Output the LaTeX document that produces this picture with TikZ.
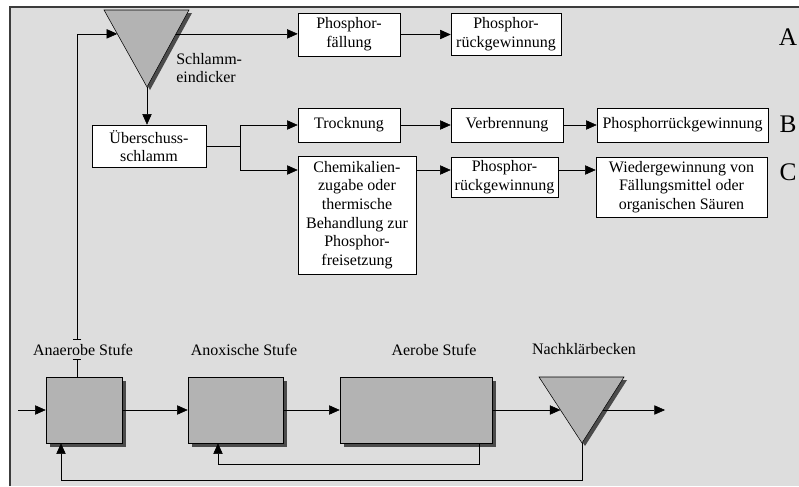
\documentclass[tikz,border=0pt]{standalone}
\usepackage{fontspec}
\setmainfont{Liberation Serif}
\usetikzlibrary{arrows.meta,calc,backgrounds}

\definecolor{bggray}{RGB}{221,221,221}
\definecolor{stagegray}{RGB}{179,179,179}
\definecolor{shadowgray}{RGB}{75,75,75}
\definecolor{framegray}{RGB}{60,60,60}

\pgfdeclarelayer{bottom}
\pgfdeclarelayer{background}
\pgfsetlayers{bottom,background,main}

\begin{document}
\begin{tikzpicture}[x=0.75pt,y=0.75pt,yscale=-1,xscale=1,line width=0.7pt,
  every node/.style={font=\fontsize{12}{14}\selectfont},
  box/.style={draw,fill=white,align=center,inner sep=0pt},
  stage/.style={draw,fill=stagegray,inner sep=0pt,minimum height=49.5pt},
  shade/.style={fill=shadowgray},
  lbl/.style={inner sep=0pt,align=left},
  letter/.style={inner sep=0pt,font=\fontsize{19}{22}\selectfont},
  arr/.style={-{Triangle[length=8pt,width=7pt]}},
  brk/.style={-{Bar[width=6.5pt]}}]
\useasboundingbox (0,0) rectangle (799,486);

%Shape: Background
\begin{pgfonlayer}{bottom}
\fill [bggray] (10,7) rectangle (799,486);
\draw [framegray,line width=1.1pt] (10,486) -- (10,7) -- (799,7);
\end{pgfonlayer}

%Shape: Triangle Schlammeindicker
\coordinate (sL) at (104,10);
\coordinate (sR) at (189,10);
\coordinate (sT) at (147,87);
\fill [shade] ([shift={(3,3)}]sL) -- ([shift={(3,3)}]sR) -- ([shift={(3,3)}]sT) -- cycle;
\draw [fill=stagegray] (sL) -- (sR) -- (sT) -- cycle;
\coordinate (sIn) at ($(sL)!0.31!(sT)$);
\coordinate (sOut) at ($(sR)!0.31!(sT)$);

%Shape: Triangle Nachklaerbecken
\coordinate (nL) at (539,377);
\coordinate (nR) at (624,377);
\coordinate (nT) at (582,443);
\fill [shade] ([shift={(3,3)}]nL) -- ([shift={(3,3)}]nR) -- ([shift={(3,3)}]nT) -- cycle;
\draw [fill=stagegray] (nL) -- (nR) -- (nT) -- cycle;
\coordinate (nIn) at ($(nL)!0.5!(nT)$);
\coordinate (nOut) at ($(nR)!0.5!(nT)$);

% Text Nodes: upper part
\node [lbl,anchor=west] (eindick) at (176,68) {Schlamm-\\eindicker};
\node [box,minimum width=76.5pt,minimum height=32.25pt] (fall) at (349,34.5) {Phosphor-\\fällung};
\node [box,minimum width=82.5pt,minimum height=31.5pt] (rgA) at (506,34.5) {Phosphor-\\rückgewinnung};
\node [box,minimum width=85.5pt,minimum height=31.5pt] (ueber) at (149,146) {Überschuss-\\schlamm};
\node [box,minimum width=76.5pt,minimum height=25.5pt] (trock) at (349,125) {Trocknung};
\node [box,minimum width=84pt,minimum height=25.5pt] (verbr) at (507,125) {Verbrennung};
\node [box,minimum width=128.25pt,minimum height=25.5pt] (rgB) at (682.5,125) {Phosphorrückgewinnung};
\node [box,minimum width=88.5pt,minimum height=88.5pt] (chem) at (357,215) {Chemikalien-\\zugabe oder\\thermische\\Behandlung zur\\Phosphor-\\freisetzung};
\node [box,minimum width=80.25pt,minimum height=30pt] (rgC) at (504.5,177) {Phosphor-\\rückgewinnung};
\node [box,minimum width=128.25pt,minimum height=45pt] (wieder) at (681.5,187) {Wiedergewinnung von\\Fällungsmittel oder\\organischen Säuren};
\node [letter] (lA) at (788,37) {A};
\node [letter] (lB) at (788,124) {B};
\node [letter] (lC) at (788,172) {C};

% Text Nodes: lower part
\node [stage,minimum width=57pt] (anae) at (84,410) {};
\node [stage,minimum width=71.25pt] (anox) at (235.5,410) {};
\node [stage,minimum width=114pt] (aero) at (416,410) {};
\begin{pgfonlayer}{background}
\foreach \s in {anae,anox,aero}
  \fill [shade] ([shift={(4,4)}]\s.north west) rectangle ([shift={(4,4)}]\s.south east);
\end{pgfonlayer}
\node [lbl] (tAnae) at (83,350) {Anaerobe Stufe};
\node [lbl] (tAnox) at (244,350) {Anoxische Stufe};
\node [lbl] (tAero) at (434,350) {Aerobe Stufe};
\node [lbl] (tNach) at (584,349) {Nachklärbecken};

%Connectors
\coordinate (rowC) at (0,170);
\coordinate (spl) at (240,146);
\coordinate (brkA) at (77,359);
\coordinate (brkB) at (77,340);
\coordinate (in) at (18,410);
\coordinate (out) at (665,410);
\coordinate (r1) at (479,464);
\coordinate (r2) at (218,464);
\coordinate (r3) at (582,480);
\coordinate (r4) at (61,480);

\draw [arr] (sOut) -- (sOut -| fall.west);
\draw [arr] (fall.east) -- (rgA.west);
\draw [arr] (sT) -- (sT |- ueber.north);
\draw [arr] (ueber.east) -- (spl) |- (trock.west);
\draw [arr] (spl) |- (chem.west |- rowC);
\draw [arr] (trock.east) -- (verbr.west);
\draw [arr] (verbr.east) -- (rgB.west);
\draw [arr] (chem.east |- rowC) -- (rgC.west |- rowC);
\draw [arr] (rgC.east |- rowC) -- (wieder.west |- rowC);

\draw [brk] (anae.north -| brkA) -- (brkA);
\draw [{Bar[width=6.5pt]}-{Triangle[length=8pt,width=7pt]}] (brkB) |- (sIn);
\draw [arr] (in) -- (anae.west);
\draw [arr] (anae.east) -- (anox.west);
\draw [arr] (anox.east) -- (aero.west);
\draw [arr] (aero.east) -- (nIn);
\draw [arr] (nOut) -- (out);
\draw [arr] (aero.south -| r1) -- (r1) -- (r2) -- (anox.south -| r2);
\draw [arr] (nT) -- (r3) -- (r4) -- (anae.south -| r4);

\end{tikzpicture}
\end{document}
